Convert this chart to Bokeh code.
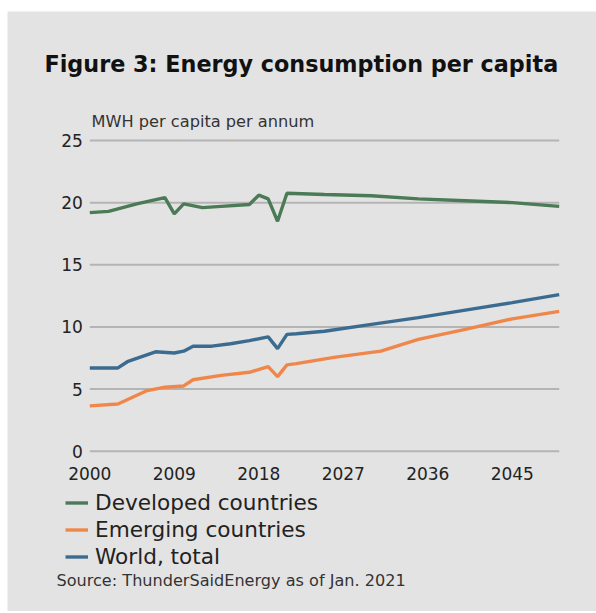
from bokeh.plotting import figure
from bokeh.models import Range1d, FixedTicker, Legend, LegendItem, Label
from bokeh.layouts import column
from bokeh.embed import file_html
from bokeh.resources import INLINE

# ---- data ----
years_dev = [2000, 2002, 2005, 2008, 2009, 2010, 2012, 2014, 2017, 2018, 2019, 2020, 2021,
             2025, 2030, 2035, 2040, 2045, 2050]
developed = [19.2, 19.3, 19.9, 20.4, 19.1, 19.9, 19.6, 19.7, 19.85, 20.6, 20.3, 18.5, 20.75,
             20.65, 20.55, 20.3, 20.15, 20.0, 19.7]

years_emg = [2000, 2003, 2006, 2008, 2010, 2011, 2014, 2017, 2019, 2020, 2021, 2022,
             2026, 2031, 2035, 2040, 2045, 2050]
emerging = [3.65, 3.8, 4.85, 5.15, 5.25, 5.75, 6.1, 6.35, 6.8, 6.0, 6.95, 7.05,
            7.55, 8.05, 9.0, 9.8, 10.65, 11.25]

years_wld = [2000, 2003, 2004, 2007, 2009, 2010, 2011, 2013, 2015, 2017, 2019, 2020, 2021, 2022,
             2025, 2030, 2035, 2040, 2045, 2050]
world = [6.7, 6.7, 7.2, 8.0, 7.9, 8.05, 8.45, 8.45, 8.65, 8.9, 9.2, 8.25, 9.4, 9.45,
         9.65, 10.2, 10.75, 11.35, 11.95, 12.6]

x_ticks = [2000, 2009, 2018, 2027, 2036, 2045]
y_ticks = [0, 5, 10, 15, 20, 25]

series_names = ["Developed countries", "Emerging countries", "World, total"]
colors = ["#4a7b56", "#f0874a", "#3b6c90"]

BG = "#e3e3e3"
FONT = "DejaVu Sans"

# ---- layout geometry (pixels inside the figure) ----
FIG_W, FIG_H = 589, 600
X_START_PX, X_END_PX = 82.3, 551.7      # where the first / last year sit
Y_ZERO_PX, Y_TOP_PX = 439.7, 129.0      # where 0 and the top tick sit (from top)

x_first, x_last = years_dev[0], years_dev[-1]
y_top = y_ticks[-1]
xs = (X_END_PX - X_START_PX) / (x_last - x_first)
ys = (Y_ZERO_PX - Y_TOP_PX) / y_top
x_range = Range1d(x_first - X_START_PX / xs, x_last + (FIG_W - X_END_PX) / xs)
y_range = Range1d(-(FIG_H - Y_ZERO_PX) / ys, y_top + Y_TOP_PX / ys)

p = figure(width=FIG_W, height=FIG_H, output_backend="svg", toolbar_location=None,
           x_range=x_range, y_range=y_range, min_border=0,
           background_fill_color=BG, border_fill_color=BG, outline_line_color=None)

# axes pinned inside the frame
p.xaxis.ticker = FixedTicker(ticks=x_ticks)
p.yaxis.ticker = FixedTicker(ticks=y_ticks)
p.xaxis.fixed_location = 0
p.yaxis.fixed_location = x_first
for ax in (p.xaxis[0], p.yaxis[0]):
    ax.axis_line_color = None
    ax.major_tick_line_color = None
    ax.minor_tick_line_color = None
    ax.major_label_text_font = FONT
    ax.major_label_text_font_size = "17px"
    ax.major_label_text_color = "#222222"
p.xaxis.major_label_standoff = 10
p.yaxis.major_label_standoff = 1
p.grid.grid_line_color = None

# horizontal gridlines spanning the data years only
p.segment(x0=[x_first] * len(y_ticks), x1=[x_last] * len(y_ticks), y0=y_ticks, y1=y_ticks,
          line_color="#b4b4b4", line_width=2)

r1 = p.line(years_dev, developed, line_color=colors[0], line_width=3.4)
r2 = p.line(years_emg, emerging, line_color=colors[1], line_width=3.4)
r3 = p.line(years_wld, world, line_color=colors[2], line_width=3.4)

legend = Legend(items=[LegendItem(label=series_names[0], renderers=[r1]),
                       LegendItem(label=series_names[1], renderers=[r2]),
                       LegendItem(label=series_names[2], renderers=[r3])],
                location=(58, 41), orientation="vertical",
                background_fill_alpha=0, border_line_color=None,
                padding=0, margin=0, spacing=0,
                glyph_width=23, glyph_height=27, label_height=27,
                label_standoff=7,
                label_text_font=FONT, label_text_font_size="21.6px",
                label_text_color="#222222")
p.add_layout(legend, "center")

# texts (screen units from the frame's bottom-left corner)
p.add_layout(Label(x=37, y=FIG_H - 52, x_units="screen", y_units="screen",
                   text="Figure 3: Energy consumption per capita",
                   text_font=FONT, text_font_style="bold", text_font_size="22.3px",
                   text_color="#111111", text_baseline="middle", text_align="left"))
p.add_layout(Label(x=84, y=FIG_H - 110, x_units="screen", y_units="screen",
                   text="MWH per capita per annum",
                   text_font=FONT, text_font_size="16.2px", text_color="#333333",
                   text_baseline="middle", text_align="left"))
p.add_layout(Label(x=49, y=FIG_H - 569, x_units="screen", y_units="screen",
                   text="Source: ThunderSaidEnergy as of Jan. 2021",
                   text_font=FONT, text_font_size="16.1px", text_color="#333333",
                   text_baseline="middle", text_align="left"))

layout = column(p, margin=(11, 0, 0, 7))

open("out.html", "w").write(file_html(layout, INLINE))
